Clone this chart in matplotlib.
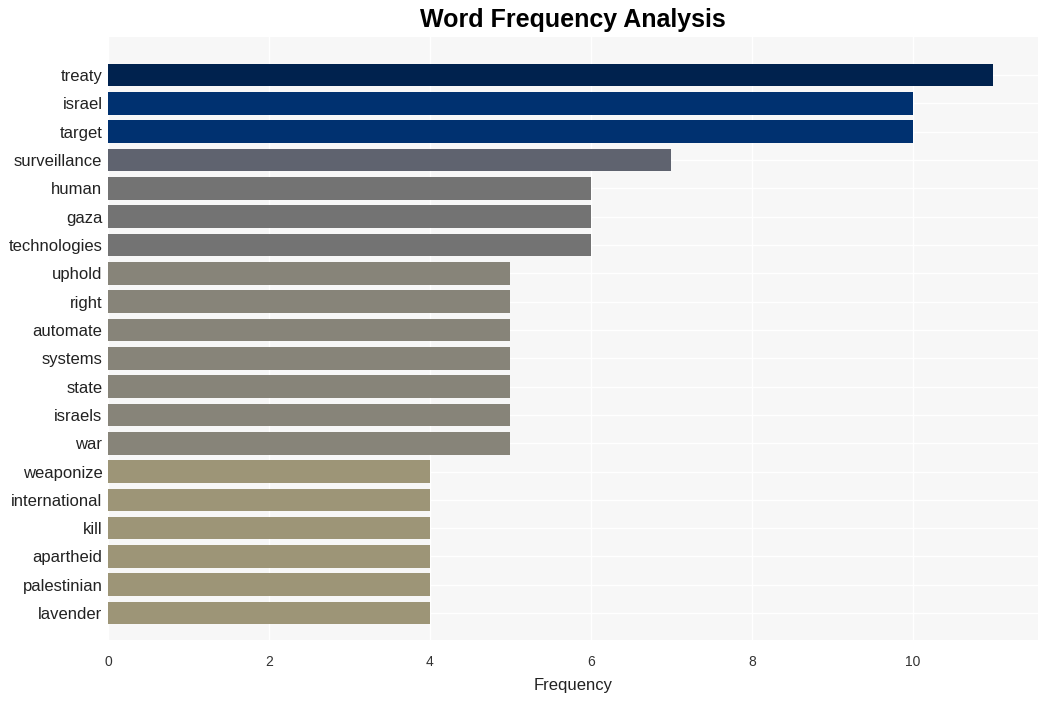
import matplotlib
matplotlib.use("Agg")
import matplotlib.pyplot as plt

plt.rcParams["font.family"] = ["Liberation Sans", "DejaVu Sans"]

words = ["treaty", "israel", "target", "surveillance", "human", "gaza", "technologies",
         "uphold", "right", "automate", "systems", "state", "israels", "war",
         "weaponize", "international", "kill", "apartheid", "palestinian", "lavender"]
counts = [11, 10, 10, 7, 6, 6, 6, 5, 5, 5, 5, 5, 5, 5, 4, 4, 4, 4, 4, 4]
colors = {11: "#00224e", 10: "#003170", 7: "#5f636f", 6: "#737373", 5: "#878479", 4: "#9d9577"}

fig, ax = plt.subplots(figsize=(10.48, 7.01), dpi=100)
fig.subplots_adjust(left=0.103, right=0.99, top=0.947, bottom=0.087)
ax.set_facecolor("#f7f7f7")

y = list(range(len(words)))
ax.barh(y, counts, height=0.8, color=[colors[c] for c in counts], zorder=2)

ax.set_yticks(y)
ax.set_yticklabels(words, fontsize=12, color="#222222")
ax.set_ylim(len(words) - 0.05, -1.34)
ax.set_xlim(0, 11.55)
ax.set_xticks([0, 2, 4, 6, 8, 10])
ax.tick_params(axis="x", labelsize=10, colors="#333333", length=0, pad=11)
ax.tick_params(axis="y", length=0, pad=4)
ax.grid(True, color="white", linewidth=1, zorder=0)
ax.set_axisbelow(True)
for s in ax.spines.values():
    s.set_visible(False)

ax.set_xlabel("Frequency", fontsize=12, color="#222222", labelpad=6)
ax.set_title("Word Frequency Analysis", fontsize=18, fontweight="bold", pad=7)

fig.savefig("out.png", dpi=100, facecolor="white")
